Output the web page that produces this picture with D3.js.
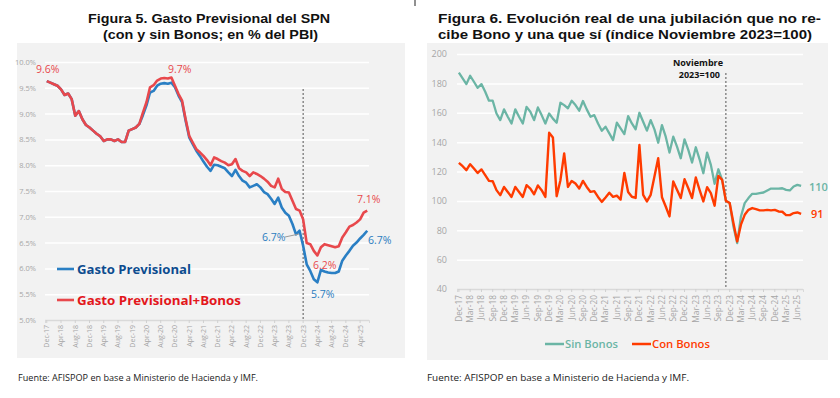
<!DOCTYPE html>
<html><head><meta charset="utf-8">
<script src="https://cdn.jsdelivr.net/npm/d3@7"></script>
<style>body{margin:0;background:#fff}svg{display:block}</style>
</head><body><svg id="c" width="840" height="398" font-family="Open Sans, sans-serif"></svg>
<script>
// ---------- DATA: Figura 5 (monthly Dec-17 .. Jun-25, % of GDP) ----------
const gastoBonos = [9.63,9.60,9.57,9.54,9.47,9.36,9.39,9.28,8.96,9.05,8.89,8.78,8.73,8.67,8.61,8.56,8.47,8.50,8.50,8.47,8.50,8.45,8.45,8.67,8.70,8.73,8.80,
 9.02,9.22,9.51,9.55,9.64,9.68,9.69,9.68,9.70,9.54,9.38,9.25,8.89,8.57,8.44,8.31,8.25,8.18,8.10,8.00,8.15,8.12,8.08,8.05,8.00,8.02,8.12,7.94,7.89,7.86,7.79,7.86,7.83,7.79,7.74,7.68,7.60,7.57,7.74,7.54,7.48,7.47,7.31,7.15,7.12,
 6.95,6.49,6.47,6.34,6.25,6.41,6.47,6.45,6.43,6.41,6.43,6.60,6.70,6.81,6.84,6.89,6.95,7.08,7.12];
const gasto = [9.63,9.60,9.57,9.54,9.47,9.36,9.39,9.28,8.96,9.05,8.89,8.78,8.73,8.67,8.61,8.56,8.47,8.50,8.50,8.47,8.50,8.45,8.45,8.67,8.70,8.73,8.80,
 8.97,9.16,9.41,9.44,9.54,9.58,9.59,9.58,9.60,9.51,9.35,9.22,8.86,8.54,8.41,8.28,8.18,8.07,7.97,7.89,8.01,8.00,7.97,7.94,7.86,7.79,7.91,7.79,7.70,7.66,7.57,7.60,7.63,7.57,7.48,7.44,7.35,7.25,7.37,7.18,7.08,7.02,6.86,6.66,6.73,
 6.44,6.08,5.95,5.79,5.73,5.97,5.94,5.92,5.91,5.91,5.94,6.15,6.25,6.34,6.44,6.50,6.58,6.65,6.73];
const leftTickLabels = ["Dec-17","Apr-18","Aug-18","Dec-18","Apr-19","Aug-19","Dec-19","Apr-20","Aug-20","Dec-20","Apr-21","Aug-21","Dec-21","Apr-22","Aug-22","Dec-22","Apr-23","Aug-23","Dec-23","Apr-24","Aug-24","Dec-24","Apr-25"];
const leftTickIndex = [0,4,8,12,16,20,24,28,32,36,40,44,48,52,56,60,64,68,72,76,80,84,88];
const leftYTicks = [5.0,5.5,6.0,6.5,7.0,7.5,8.0,8.5,9.0,9.5,10.0];

// ---------- DATA: Figura 6 (monthly Dec-17 .. Jul-25, Nov-23 = 100) ----------
const sinBonos = [187.3,183.4,179.5,185.2,181.1,177.0,179.5,174.3,168.2,168.2,159.5,155.0,162.3,157.3,152.7,162.3,157.3,152.7,164.0,160.7,155.0,163.6,158.4,152.7,159.5,156.0,153.2,166.8,165.2,163.0,168.2,165.2,161.4,168.0,162.3,157.3,158.4,152.7,147.7,150.5,146.0,141.4,153.2,149.3,145.5,157.7,152.7,148.7,
 160.0,153.9,147.8,155.0,148.7,139.6,151.6,143.7,132.9,143.7,136.9,129.0,141.9,134.7,126.1,136.5,128.3,118.8,132.9,124.5,111.6,121.5,114.3,100.0,98.5,82.6,71.3,89.4,98.5,101.9,104.8,104.8,105.3,105.7,107.1,108.4,108.4,108.4,108.6,107.5,107.1,109.8,110.9,110.2];
const conBonos = [125.9,123.6,120.9,125.0,122.0,119.0,121.4,117.5,113.6,113.4,107.3,103.9,109.5,106.1,102.7,109.5,106.1,102.7,110.7,108.4,104.5,110.5,107.3,102.7,146.4,143.2,103.2,114.1,132.3,109.5,113.6,111.8,108.4,113.6,109.5,106.1,106.6,102.7,99.3,102.3,105.5,102.7,103.6,100.9,119.0,106.1,102.8,102.0,
 138.0,104.1,99.6,104.1,116.6,129.0,102.5,96.2,89.4,113.2,107.5,101.9,114.8,108.6,101.9,115.9,107.5,99.6,109.3,105.3,96.7,117.0,114.3,100.0,98.5,84.9,72.4,83.8,90.5,93.9,95.1,94.4,93.5,93.5,93.9,93.5,93.9,92.8,92.6,90.3,90.3,91.7,92.1,91.2];
const rightTickLabels = ["Dec-17","Mar-18","Jun-18","Sep-18","Dec-18","Mar-19","Jun-19","Sep-19","Dec-19","Mar-20","Jun-20","Sep-20","Dec-20","Mar-21","Jun-21","Sep-21","Dec-21","Mar-22","Jun-22","Sep-22","Dec-22","Mar-23","Jun-23","Sep-23","Dec-23","Mar-24","Jun-24","Sep-24","Dec-24","Mar-25","Jun-25"];
const rightTickIndex = [0,3,6,9,12,15,18,21,24,27,30,33,36,39,42,45,48,51,54,57,60,63,66,69,72,75,78,81,84,87,90];
const rightYTicks = [40,60,80,100,120,140,160,180,200];

const svg = d3.select("#c");
svg.append("rect").attr("width",840).attr("height",398).attr("fill","#fff");
svg.append("line").attr("x1",415).attr("x2",415).attr("y1",0).attr("y2",6).attr("stroke","#222").attr("stroke-width",1);

function txt(x,y,s,o){
  const t = svg.append("text").attr("x",x).attr("y",y).text(s);
  for (const k in o) t.attr(k,o[k]);
  return t;
}
const TITLE = {fill:"#111","font-size":"13px","font-weight":700,"font-family":"Liberation Sans, Arial, sans-serif",lengthAdjust:"spacingAndGlyphs"};

// ================= LEFT PANEL =================
svg.append("rect").attr("x",17).attr("y",43).attr("width",388).attr("height",315).attr("fill","#f2f2f2");
const xL = d3.scaleBand().domain(d3.range(gasto.length)).range([45,369]);
const yL = d3.scaleLinear().domain([5,10]).range([320,62]);
const cxL = i => xL(i)+xL.bandwidth()/2;

const gyL = svg.append("g").attr("transform","translate(45,0)")
  .call(d3.axisLeft(yL).tickValues(leftYTicks).tickFormat(d=>d.toFixed(1)+"%").tickSize(-(369-45)).tickPadding(9));
gyL.select(".domain").remove();
gyL.selectAll(".tick line").attr("stroke",d=>d===5?"#d9d9d9":"#ffffff").attr("stroke-width",1.5);
gyL.selectAll(".tick text").attr("fill","#a6a6a6").style("font-size","7.5px").style("font-family","Open Sans");

const gxL = svg.append("g").attr("transform","translate(0,320)")
  .call(d3.axisBottom(xL).tickValues(leftTickIndex).tickFormat((d,i)=>leftTickLabels[i]).tickSize(3));
gxL.select(".domain").attr("stroke","#d9d9d9");
gxL.selectAll(".tick line").attr("stroke","#d0d0d0");
gxL.selectAll(".tick text").attr("fill","#a6a6a6").style("font-size","7px").style("font-family","Open Sans")
  .attr("transform","rotate(-90)").attr("x",-5).attr("y",0).attr("dy","0.35em").style("text-anchor","end");

svg.append("line").attr("x1",cxL(72)).attr("x2",cxL(72)).attr("y1",89).attr("y2",320)
  .attr("stroke","#555").attr("stroke-width",1).attr("stroke-dasharray","2,2");

const lineL = d3.line().x((d,i)=>cxL(i)).y(d=>yL(d));
svg.append("path").datum(gasto).attr("d",lineL).attr("fill","none").attr("stroke","#2a7fc4").attr("stroke-width",2.6).attr("stroke-linejoin","round");
svg.append("path").datum(gastoBonos).attr("d",lineL).attr("fill","none").attr("stroke","#e8484c").attr("stroke-width",2.6).attr("stroke-linejoin","round");

const RED="#e8484c", BLUE="#2b7cc0";
txt(36,73,"9.6%",{fill:RED,"font-size":"10.5px"});
txt(168,73,"9.7%",{fill:RED,"font-size":"10.5px"});
txt(262,241,"6.7%",{fill:BLUE,"font-size":"10.5px"});
svg.append("line").attr("x1",285).attr("y1",237).attr("x2",299).attr("y2",234).attr("stroke","#9a9a9a").attr("stroke-width",1);
txt(313,269,"6.2%",{fill:RED,"font-size":"10.5px"});
txt(311,298,"5.7%",{fill:BLUE,"font-size":"10.5px"});
txt(357,203,"7.1%",{fill:RED,"font-size":"10.5px"});
txt(368,244,"6.7%",{fill:BLUE,"font-size":"10.5px"});

svg.append("line").attr("x1",57).attr("x2",74).attr("y1",269).attr("y2",269).attr("stroke","#2a7fc4").attr("stroke-width",2.6);
txt(77,274,"Gasto Previsional",{fill:"#0d4c8f","font-size":"13px","font-weight":700,textLength:114,lengthAdjust:"spacingAndGlyphs"});
svg.append("line").attr("x1",57).attr("x2",74).attr("y1",300).attr("y2",300).attr("stroke","#e8484c").attr("stroke-width",2.6);
txt(77,305,"Gasto Previsional+Bonos",{fill:"#e3161b","font-size":"13px","font-weight":700,textLength:164,lengthAdjust:"spacingAndGlyphs"});

txt(88,23,"Figura 5. Gasto Previsional del SPN",Object.assign({textLength:242},TITLE));
txt(103,39,"(con y sin Bonos; en % del PBI)",Object.assign({textLength:215},TITLE));
txt(18,381,"Fuente: AFISPOP en base a Ministerio de Hacienda y IMF.",{fill:"#222","font-size":"9.5px",textLength:240,lengthAdjust:"spacingAndGlyphs"});

// ================= RIGHT PANEL =================
svg.append("rect").attr("x",427).attr("y",43).attr("width",401).attr("height",317).attr("fill","#f2f2f2");
const xR = d3.scaleBand().domain(d3.range(sinBonos.length)).range([457,803]);
const yR = d3.scaleLinear().domain([40,200]).range([289,54]);
const cxR = i => xR(i)+xR.bandwidth()/2;

const gyR = svg.append("g").attr("transform","translate(457,0)")
  .call(d3.axisLeft(yR).tickValues(rightYTicks).tickSize(-(803-457)).tickPadding(10));
gyR.select(".domain").remove();
gyR.selectAll(".tick line").attr("stroke",d=>d===40?"#d9d9d9":"#ffffff").attr("stroke-width",1.5);
gyR.selectAll(".tick text").attr("fill","#a6a6a6").style("font-size","9px").style("font-family","Open Sans");

const gxR = svg.append("g").attr("transform","translate(0,289)")
  .call(d3.axisBottom(xR).tickValues(rightTickIndex).tickFormat((d,i)=>rightTickLabels[i]).tickSize(3));
gxR.select(".domain").attr("stroke","#d9d9d9");
gxR.selectAll(".tick line").attr("stroke","#d0d0d0");
gxR.selectAll(".tick text").attr("fill","#a6a6a6").style("font-size","8.3px").style("font-family","Open Sans")
  .attr("transform","rotate(-90)").attr("x",-6).attr("y",0).attr("dy","0.35em").style("text-anchor","end");

svg.append("line").attr("x1",cxR(71)).attr("x2",cxR(71)).attr("y1",73).attr("y2",289)
  .attr("stroke","#555").attr("stroke-width",1).attr("stroke-dasharray","2,2");
txt(723,66,"Noviembre",{fill:"#111","font-size":"9px","font-weight":700,"text-anchor":"end"});
txt(720,78,"2023=100",{fill:"#111","font-size":"9px","font-weight":700,"text-anchor":"end"});

const lineR = d3.line().x((d,i)=>cxR(i)).y(d=>yR(d));
const TEAL="#6bb5a5", ORANGE="#ff3b00";
svg.append("path").datum(sinBonos).attr("d",lineR).attr("fill","none").attr("stroke",TEAL).attr("stroke-width",2.3).attr("stroke-linejoin","round");
svg.append("path").datum(conBonos).attr("d",lineR).attr("fill","none").attr("stroke",ORANGE).attr("stroke-width",2.4).attr("stroke-linejoin","round");

txt(809,191,"110",{fill:TEAL,"font-size":"11px","font-weight":600});
txt(811,218,"91",{fill:ORANGE,"font-size":"11px","font-weight":600});

svg.append("line").attr("x1",545).attr("x2",564).attr("y1",344).attr("y2",344).attr("stroke",TEAL).attr("stroke-width",2.5);
txt(565,348,"Sin Bonos",{fill:TEAL,"font-size":"11.5px","font-weight":600,textLength:53,lengthAdjust:"spacingAndGlyphs"});
svg.append("line").attr("x1",632).attr("x2",651).attr("y1",344).attr("y2",344).attr("stroke",ORANGE).attr("stroke-width",2.5);
txt(652,348,"Con Bonos",{fill:ORANGE,"font-size":"11.5px","font-weight":600,textLength:58,lengthAdjust:"spacingAndGlyphs"});

txt(438,23,"Figura 6.  Evolución real de una jubilación que no re-",Object.assign({textLength:383},TITLE));
txt(438,39,"cibe Bono y una que sí (índice Noviembre 2023=100)",Object.assign({textLength:374},TITLE));
txt(427,381,"Fuente: AFISPOP en base a Ministerio de Hacienda y IMF.",{fill:"#222","font-size":"9.5px",textLength:262,lengthAdjust:"spacingAndGlyphs"});
</script></body></html>
